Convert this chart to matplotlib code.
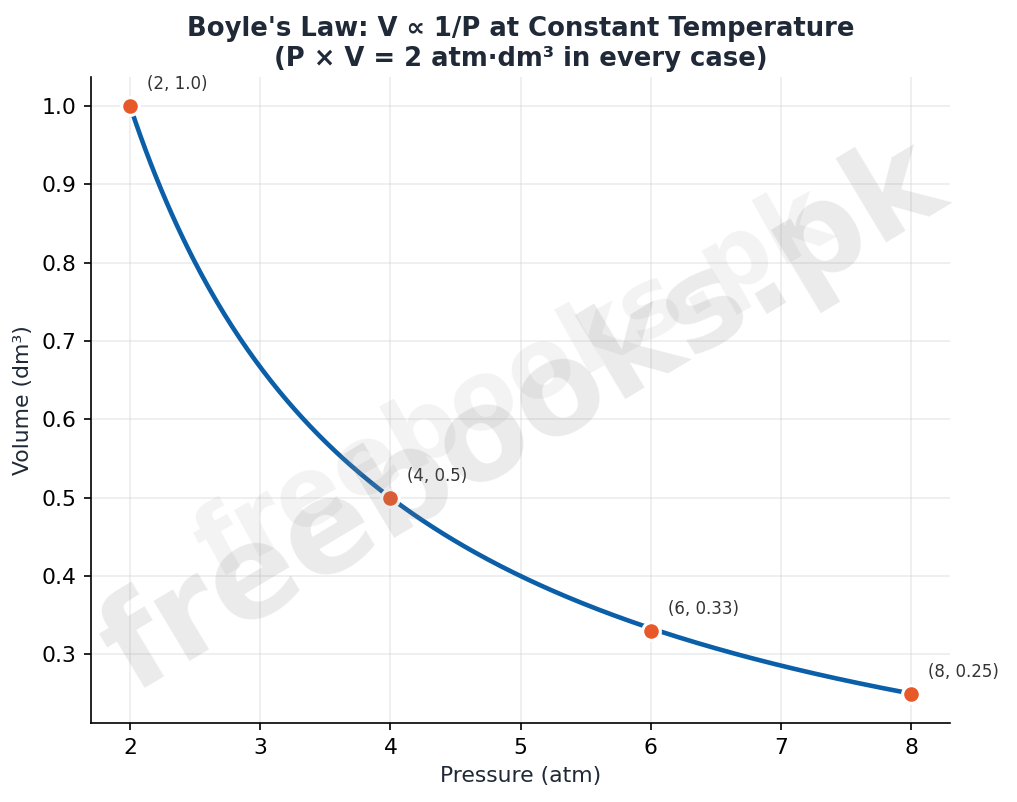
import numpy as np
import matplotlib.pyplot as plt

# Boyle's law data
PV_CONSTANT = 2.0  # atm·dm³, as stated in the title
pressures = [2, 4, 6, 8]
volumes = [1.0, 0.5, 0.33, 0.25]
point_labels = ["(2, 1.0)", "(4, 0.5)", "(6, 0.33)", "(8, 0.25)"]

p_curve = np.linspace(min(pressures), max(pressures), 300)
v_curve = PV_CONSTANT / p_curve

fig = plt.figure(figsize=(1017 / 150, 802 / 150), dpi=150)
ax = fig.add_axes([0.0895, 0.0985, 0.845, 0.806])

# Watermarks
fig.text(0.505, 0.52, "freebooks.pk", fontsize=46, fontweight="bold",
         color="#a0a0a0", alpha=0.13, rotation=29, ha="center", va="center", zorder=0)
fig.text(0.515, 0.48, "freebooks.pk", fontsize=62, fontweight="bold",
         color="#808080", alpha=0.16, rotation=31, ha="center", va="center", zorder=0)

ax.plot(p_curve, v_curve, color="#0b5ea8", lw=2.2, zorder=3)
ax.plot(pressures, volumes, "o", color="#e8592a", markersize=8.5,
        markeredgecolor="white", markeredgewidth=1.5, zorder=4)

for p, v, lab in zip(pressures, volumes, point_labels):
    ax.annotate(lab, (p, v), xytext=(8, 6), textcoords="offset points",
                fontsize=8, color="#333333", ha="left", va="bottom")

ax.set_xlabel("Pressure (atm)", fontsize=10.5, color="#1f2937")
ax.set_ylabel("Volume (dm³)", fontsize=10.5, color="#1f2937")
ax.set_title("Boyle's Law: V ∝ 1/P at Constant Temperature\n(P × V = 2 atm·dm³ in every case)",
             fontsize=12.4, fontweight="bold", color="#1f2937", pad=5)

ax.grid(True, color="#d1d5db", alpha=0.45, lw=0.8)
ax.set_axisbelow(True)
ax.spines["top"].set_visible(False)
ax.spines["right"].set_visible(False)
ax.patch.set_alpha(0)
ax.tick_params(labelsize=10.5)

fig.savefig("out.png", dpi=150)
